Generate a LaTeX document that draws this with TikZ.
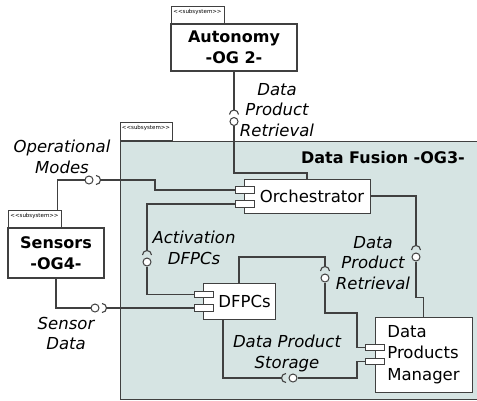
\documentclass[tikz,border=0pt]{standalone}
\usepackage{fontspec}
\setmainfont{DejaVu Sans}
\usepackage{tikz}
\usetikzlibrary{calc}
\definecolor{LineGray}{HTML}{404040}
\definecolor{FusionFill}{HTML}{D6E4E3}
\tikzset{
  % Box styles
  subsysbox/.style={rectangle, draw=LineGray, fill=white, line width=1.2pt, inner sep=0pt, font=\fontsize{16}{21}\selectfont\bfseries, align=center},
  tabbox/.style={rectangle, draw=LineGray, fill=white, line width=1pt, inner xsep=1pt, inner ysep=2pt, text height=5pt, text depth=9pt, font=\fontsize{5.5}{6}\selectfont},
  fusionbox/.style={rectangle, draw=LineGray, fill=FusionFill, line width=1pt, inner sep=0pt},
  compbox/.style={rectangle, draw=LineGray, fill=white, line width=1pt, inner sep=0pt, font=\fontsize{16.5}{21.5}\selectfont},
  portbox/.style={rectangle, draw=LineGray, fill=white, line width=1pt, minimum width=19pt, minimum height=6.5pt, inner sep=0pt},
  % Interface styles
  ball/.style={circle, draw=LineGray, fill=white, line width=1pt, minimum size=8pt, inner sep=0pt},
  conn/.style={draw=LineGray, line width=1.1pt},
  ifacelabel/.style={inner sep=0pt, align=center, font=\fontsize{16.5}{20.5}\selectfont\itshape}
}
\begin{document}
\begin{tikzpicture}[x=1pt, y=-1pt]
  \useasboundingbox (0,0) rectangle (477,400);
  % Data Fusion package
  \begin{scope}
    \clip (0,0) rectangle (477,400);
    \node[fusionbox, minimum width=370pt, minimum height=258.5pt] (fusion) at (305,270.25) {};
  \end{scope}
  \node[tabbox, minimum width=52pt] (fusionTab) at (146,131.5) {{<}{<}subsystem{>}{>}};
  \node[font=\fontsize{16}{21}\selectfont\bfseries, inner sep=0pt] (fusionTitle) at (383,158) {Data Fusion -OG3-};
  % Subsystems
  \node[tabbox, minimum width=53pt] (autoTab) at (197.5,15) {{<}{<}subsystem{>}{>}};
  \node[subsysbox, minimum width=126pt, minimum height=47pt] (auto) at (234,47.5) {Autonomy\\-OG 2-};
  \node[tabbox, minimum width=53pt] (sensTab) at (34.5,219) {{<}{<}subsystem{>}{>}};
  \node[subsysbox, minimum width=96pt, minimum height=50pt] (sens) at (56,253) {Sensors\\-OG4-};
  % Components
  \node[compbox, minimum width=126pt, minimum height=34pt] (orch) at (307,196) {\hspace*{10pt}Orchestrator};
  \node[compbox, minimum width=72pt, minimum height=36pt] (dfpc) at (239,301) {\hspace*{11pt}DFPCs};
  \node[compbox, minimum width=97pt, minimum height=75pt, align=left] (dpm) at (423.5,354.5) {Data\\Products\\Manager};
  \node[portbox] (op1) at (244.5,190) {};
  \node[portbox] (op2) at (244.5,204) {};
  \node[portbox] (dp1) at (203.5,294.5) {};
  \node[portbox] (dp2) at (203.5,308) {};
  \node[portbox] (mp1) at (375,347.5) {};
  \node[portbox] (mp2) at (375,361.5) {};
  % Provided interfaces
  \node[ball] (b1) at (234,121.5) {};
  \node[ball] (b2) at (89,180) {};
  \node[ball] (b3) at (147,262) {};
  \node[ball] (b4) at (95,308) {};
  \node[ball] (b5) at (325,278) {};
  \node[ball] (b6) at (416,257) {};
  \node[ball] (b7) at (293,378) {};
  % Autonomy - Orchestrator
  \draw[conn] (auto.south) -- ($(b1)+(0,-11.5)$);
  \draw[conn] ($(b1)+(-4.5,-7)$) arc[start angle=180, end angle=0, radius=4.5pt];
  \draw[conn] (b1.south) |- ($(orch.north)+(0,-5.5)$) -- (orch.north);
  % Sensors - Orchestrator
  \draw[conn] ($(sensTab.north east)+(-4,0)$) |- (b2.west);
  \draw[conn] ($(b2)+(7,-4.5)$) arc[start angle=90, end angle=-90, radius=4.5pt];
  \draw[conn] ($(b2)+(11.5,0)$) -- (155,180) |- (op1.west);
  % Orchestrator - DFPCs
  \draw[conn] (op2.west) -| ($(b3)+(0,-11.5)$);
  \draw[conn] ($(b3)+(-4.5,-7)$) arc[start angle=180, end angle=0, radius=4.5pt];
  \draw[conn] (b3.south) |- (dp1.west);
  % Sensors - DFPCs
  \draw[conn] (sens.south) |- (b4.west);
  \draw[conn] ($(b4)+(7,-4.5)$) arc[start angle=90, end angle=-90, radius=4.5pt];
  \draw[conn] ($(b4)+(11.5,0)$) -- (dp2.west);
  % DFPCs - Data Products Manager
  \draw[conn] (dfpc.north) |- ($(b5)+(0,-21)$) -- ($(b5)+(0,-11.5)$);
  \draw[conn] ($(b5)+(-4.5,-7)$) arc[start angle=180, end angle=0, radius=4.5pt];
  \draw[conn] (b5.south) |- ($(mp1.west)+(-8,-34.5)$) |- (mp1.west);
  \draw[conn] ($(dfpc.south)+(-16,0)$) |- ($(b7)+(-11.5,0)$);
  \draw[conn] ($(b7)+(-7,-4.5)$) arc[start angle=90, end angle=270, radius=4.5pt];
  \draw[conn] (b7.east) -| ($(mp2.west)+(-8,0)$) -- (mp2.west);
  % Orchestrator - Data Products Manager
  \draw[conn] (orch.east) -| ($(b6)+(0,-11.5)$);
  \draw[conn] ($(b6)+(-4.5,-7)$) arc[start angle=180, end angle=0, radius=4.5pt];
  \draw[conn] (b6.south) |- ($(dpm.north)+(0,-19)$) -- (dpm.north);
  % Interface labels
  \node[ifacelabel] (lblRetrTop) at (277,110) {Data\\Product\\Retrieval};
  \node[ifacelabel] (lblModes) at (62,157) {Operational\\Modes};
  \node[ifacelabel] (lblAct) at (194,248) {Activation\\DFPCs};
  \node[ifacelabel] (lblSens) at (66,333.5) {Sensor\\Data};
  \node[ifacelabel] (lblRetrMid) at (373,263) {Data\\Product\\Retrieval};
  \node[ifacelabel] (lblStore) at (287,353.5) {Data Product\\Storage};
\end{tikzpicture}
\end{document}
